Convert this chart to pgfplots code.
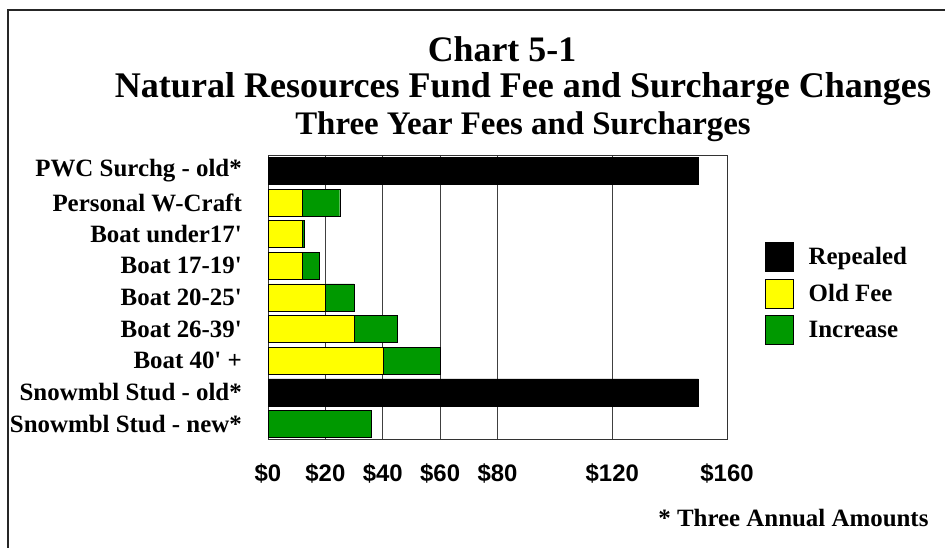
\documentclass[border=0pt]{standalone}
\usepackage{fontspec}
\setmainfont{Liberation Serif}[Ligatures=TeXOff]
\newfontfamily\arialfont{Liberation Sans}
\usepackage{pgfplots}
\pgfplotsset{compat=1.18}

\definecolor{feeyellow}{RGB}{255,255,0}
\definecolor{incgreen}{RGB}{0,153,0}

\begin{document}
\begin{tikzpicture}[x=1bp,y=1bp]
\useasboundingbox (0,0) rectangle (945,548);
% outer frame (only top and left edges are visible in the crop)
\draw[line width=1.6bp,black!85] (8,0) -- (8,538) -- (945,538);

% titles
\node[anchor=base,font=\bfseries\fontsize{36}{36}\selectfont] at (502,486) {Chart 5-1};
\node[anchor=base,font=\bfseries\fontsize{36.2}{36}\selectfont] at (523,450) {Natural Resources Fund Fee and Surcharge Changes};
\node[anchor=base,font=\bfseries\fontsize{33}{34}\selectfont] at (523,413) {Three Year Fees and Surcharges};

\begin{axis}[
  at={(268bp,108bp)}, anchor=south west,
  scale only axis, width=459bp, height=285bp,
  xbar stacked,
  bar width=27bp,
  xmin=0, xmax=160,
  ymin=-0.5, ymax=8.5,
  y dir=reverse,
  xtick={0,20,40,60,80,120,160},
  xticklabels={\$0,\$20,\$40,\$60,\$80,\$120,\$160},
  ytick={0,...,8},
  yticklabels={{PWC Surchg - old*},{Personal W-Craft},{Boat under17'},{Boat 17-19'},
    {Boat 20-25'},{Boat 26-39'},{Boat 40' +},{Snowmbl Stud - old*},{Snowmbl Stud - new*}},
  xticklabel style={font=\arialfont\bfseries\fontsize{24}{24}\selectfont,
    anchor=base, inner sep=0pt, yshift=-42bp},
  yticklabel style={font=\bfseries\fontsize{25}{25}\selectfont,
    anchor=east, inner sep=0pt, xshift=-26bp},
  major tick length=0pt,
  xmajorgrids=true,
  grid style={black!75, line width=0.8bp},
  axis line style={black!80, line width=1bp},
  legend style={at={(1.083,0.695)}, anchor=north west, draw=none, fill=none,
    inner sep=0pt, row sep=7bp, column sep=15bp,
    nodes={inner sep=0pt, anchor=base west,
      font=\bfseries\fontsize{25}{25}\selectfont}},
  legend cell align=left,
  legend image code/.code={\draw[#1,draw=black] (0bp,-6.5bp) rectangle (28bp,22.5bp);},
]
\addplot[fill=black, draw=black] coordinates {
  (150,0) (0,1) (0,2) (0,3) (0,4) (0,5) (0,6) (150,7) (0,8)};
\addplot[fill=feeyellow, draw=black] coordinates {
  (0,0) (12,1) (12,2) (12,3) (20,4) (30,5) (40,6) (0,7) (0,8)};
\addplot[fill=incgreen, draw=black] coordinates {
  (0,0) (13,1) (0.6,2) (6,3) (10,4) (15,5) (20,6) (0,7) (36,8)};
\legend{Repealed,Old Fee,Increase}
\end{axis}

\node[anchor=base east,font=\bfseries\fontsize{25}{25}\selectfont] at (932,21) {* Three Annual Amounts};
\end{tikzpicture}
\end{document}
